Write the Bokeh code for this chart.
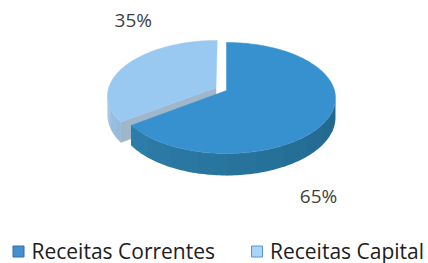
import numpy as np
from bokeh.plotting import figure
from bokeh.models import Range1d
from bokeh.core.properties import value
from bokeh.embed import file_html
from bokeh.resources import INLINE

categories = ["Receitas Correntes", "Receitas Capital"]
values = [65, 35]
pct_labels = ["65%", "35%"]
explode = [0.0, 0.11]
top_colors = ["#3891cf", "#99c9f0"]
side_left = ["#2f84b2", "#98bde0"]
side_right = ["#21658a", "#8ab3d8"]
face_colors = ["#2a6fa3", "#9fb6cb"]
legend_fill = ["#4790d0", "#a9d4f6"]
legend_line = ["#2e6fa8", "#5596d2"]

# geometry (pixels) of the perspective disc
CX, CY = 226.0, 90.0
RX, RY = 108.0, 54.5
K = 0.135
DEPTH = 19.0

W, H = 428, 263
p = figure(width=W, height=H, output_backend="svg", toolbar_location=None,
           x_range=Range1d(0, W), y_range=Range1d(H, 0),
           min_border=0, outline_line_color=None, background_fill_color="white")
p.axis.visible = False
p.grid.visible = False


def proj(u, v, z=0.0):
    s = 1.0 / (1.0 + K * v)
    return CX + RX * u * s, CY - RY * v * s + z * s


def mix(c1, c2, f):
    a = [int(c1[i:i + 2], 16) for i in (1, 3, 5)]
    b = [int(c2[i:i + 2], 16) for i in (1, 3, 5)]
    return "#%02x%02x%02x" % tuple(int(round(x + (y - x) * f)) for x, y in zip(a, b))


total = float(sum(values))
bounds = []
acc = 0.0
for v in values:
    bounds.append((2 * np.pi * acc / total, 2 * np.pi * (acc + v) / total))
    acc += v

sil = np.arccos(-K)  # silhouette angles of the rim
order = sorted(range(len(values)), key=lambda i: -explode[i])
for i in order:
    a0, a1 = bounds[i]
    mid = (a0 + a1) / 2
    ou, ov = explode[i] * np.sin(mid), explode[i] * np.cos(mid)
    # front rim side, drawn in strips for shading
    lo, hi = max(a0, sil), min(a1, 2 * np.pi - sil)
    if hi > lo:
        n = 10
        edges = np.linspace(lo, hi, n + 1)
        for j in range(n):
            ts = np.linspace(edges[j], edges[j + 1] + 0.01, 12)
            u, v = ou + np.sin(ts), ov + np.cos(ts)
            xt, yt = proj(u, v)
            xb, yb = proj(u[::-1], v[::-1], DEPTH)
            f = (np.pi * 1.5 - (edges[j] + edges[j + 1]) / 2) / np.pi
            c = mix(side_left[i], side_right[i], min(max(f, 0), 1))
            p.patch(list(xt) + list(xb), list(yt) + list(yb),
                    fill_color=c, line_color=None)
    # radial faces facing the viewer
    for ang, sgn in ((a0, -1), (a1, 1)):
        nrm = ang + sgn * np.pi / 2
        if -np.cos(nrm) > 0.05:
            eu, ev = ou + np.sin(ang), ov + np.cos(ang)
            xs0, ys0 = proj(ou, ov)
            xs1, ys1 = proj(eu, ev)
            xs2, ys2 = proj(eu, ev, DEPTH)
            xs3, ys3 = proj(ou, ov, DEPTH)
            p.patch([xs0, xs1, xs2, xs3], [ys0, ys1, ys2, ys3],
                    fill_color=face_colors[i], line_color=face_colors[i], line_width=0.5)
    ts = np.linspace(a0, a1, 160)
    xc, yc = proj(ou, ov)
    xt, yt = proj(ou + np.sin(ts), ov + np.cos(ts))
    p.patch([xc] + list(xt), [yc] + list(yt),
            fill_color=top_colors[i], line_color=top_colors[i], line_width=0.5)

# percentage labels placed outside each slice
lab_rx = [0.956, 0.86]
lab_ry = [3.5, 2.75]
lx, ly = [], []
for i in range(len(values)):
    a0, a1 = bounds[i]
    mid = (a0 + a1) / 2
    ou, ov = explode[i] * np.sin(mid), explode[i] * np.cos(mid)
    xc, yc = proj(ou, ov)
    lx.append(xc + lab_rx[i] * RX * np.sin(mid))
    ly.append(yc - lab_ry[i] * RY * np.cos(mid) + (DEPTH if np.cos(mid) < 0 else 0))
p.text(x=lx, y=ly, text=pct_labels, text_align="center", text_baseline="middle",
       text_font=value("Open Sans"), text_font_size="19px", text_color="#404040")

# legend
leg_x = [18, 256.5]
leg_y = [251, 251]
p.rect(x=leg_x, y=leg_y, width=11, height=11, fill_color=legend_fill,
       line_color=legend_line, line_width=1)
p.text(x=[x + 13 for x in leg_x], y=[y - 1 for y in leg_y], text=categories, text_align="left",
       text_baseline="middle", text_font=value("Open Sans"), text_font_size="21px",
       text_color="#202020")

open("out.html", "w").write(file_html(p, INLINE))
